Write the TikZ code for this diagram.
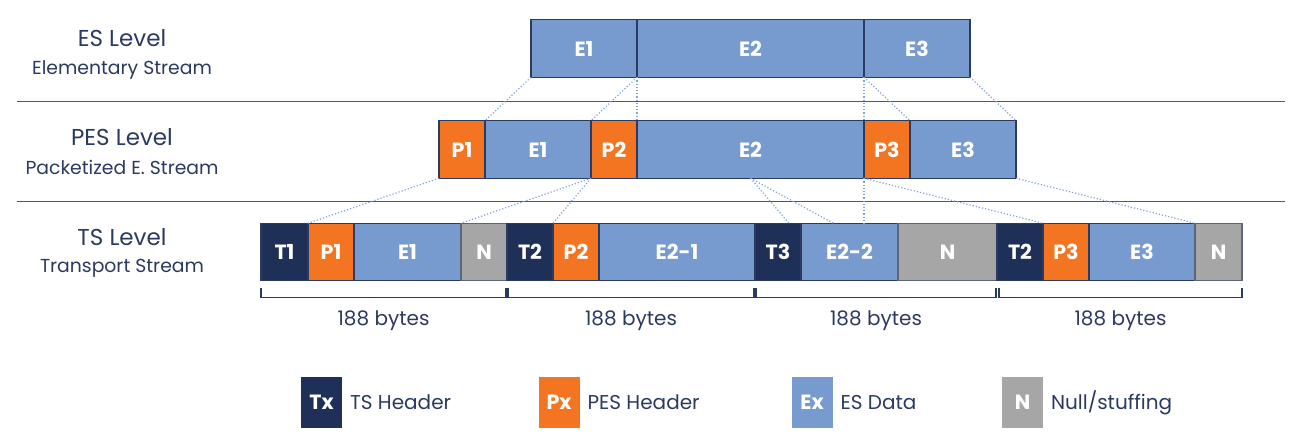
\documentclass[tikz,border=0pt]{standalone}
\usepackage{fontspec}
\setmainfont{Poppins}
\usetikzlibrary{positioning}
\definecolor{tsblue}{HTML}{1F3058}
\definecolor{pesorange}{HTML}{F47521}
\definecolor{esblue}{HTML}{779BCF}
\definecolor{nullgray}{HTML}{A6A6A6}
\definecolor{inkblue}{HTML}{2A3A60}
\definecolor{linkblue}{HTML}{7FA0DA}
\begin{document}
\begin{tikzpicture}[x=0.5pt,y=-0.5pt,
  cell/.style={shape=rectangle,inner sep=0pt,outer sep=0pt,minimum height=28.75pt,draw=inkblue,line width=0.6pt,text=white,font=\bfseries\fontsize{10.3}{12}\selectfont},
  wd/.style={minimum width=#1*0.5pt},
  tsh/.style={cell,fill=tsblue},
  pesh/.style={cell,fill=pesorange},
  esd/.style={cell,fill=esblue},
  nul/.style={cell,fill=nullgray,draw=gray!60!inkblue},
  legbox/.style={minimum height=25.5pt,wd=41,draw=none},
  link/.style={draw=linkblue,densely dotted,line width=0.6pt},
  sepline/.style={draw=inkblue!85,line width=0.8pt},
  brace/.style={draw=inkblue,line width=0.6pt},
  lvl/.style={text=inkblue,font=\fontsize{11.5}{14}\selectfont},
  sub/.style={text=inkblue,font=\fontsize{9.4}{12}\selectfont},
  keytext/.style={text=inkblue,font=\fontsize{10}{12}\selectfont}]
 \useasboundingbox (0,0) rectangle (1310,444);
 \node (lvl es) at (122,38) [lvl] {ES Level};
 \node (sub es) at (122,70) [sub] {Elementary Stream};
 \node (lvl pes) at (122,137) [lvl] {PES Level};
 \node (sub pes) at (122,167) [sub] {Packetized E. Stream};
 \node (lvl ts) at (122,237) [lvl] {TS Level};
 \node (sub ts) at (122,268) [sub] {Transport Stream};
 \draw[sepline] (17,101.5) -- (1285,101.5);
 \draw[sepline] (17,201.5) -- (1285,201.5);
 \node (es 1) at (531,48.5) [esd,wd=106,anchor=west] {E1};
 \node (es 2) [esd,wd=227,right=0pt of es 1] {E2};
 \node (es 3) [esd,wd=106,right=0pt of es 2] {E3};
 \node (pes p1) at (439,149.5) [pesh,wd=46,anchor=west] {P1};
 \node (pes e1) [esd,wd=106,right=0pt of pes p1] {E1};
 \node (pes p2) [pesh,wd=46,right=0pt of pes e1] {P2};
 \node (pes e2) [esd,wd=227,right=0pt of pes p2] {E2};
 \node (pes p3) [pesh,wd=46,right=0pt of pes e2] {P3};
 \node (pes e3) [esd,wd=106,right=0pt of pes p3] {E3};
 \node (ts t1) at (261,252) [tsh,wd=47,anchor=west] {T1};
 \node (ts p1) [pesh,wd=46,right=0pt of ts t1] {P1};
 \node (ts e1) [esd,wd=107,right=0pt of ts p1] {E1};
 \node (ts n1) [nul,wd=46,right=0pt of ts e1] {N};
 \node (ts t2) [tsh,wd=46,right=0pt of ts n1] {T2};
 \node (ts p2) [pesh,wd=46,right=0pt of ts t2] {P2};
 \node (ts e21) [esd,wd=156,right=0pt of ts p2] {E2-1};
 \node (ts t3) [tsh,wd=46,right=0pt of ts e21] {T3};
 \node (ts e22) [esd,wd=97,right=0pt of ts t3] {E2-2};
 \node (ts n2) [nul,wd=99,right=0pt of ts e22] {N};
 \node (ts t4) [tsh,wd=46,right=0pt of ts n2] {T2};
 \node (ts p3) [pesh,wd=46,right=0pt of ts t4] {P3};
 \node (ts e3) [esd,wd=106,right=0pt of ts p3] {E3};
 \node (ts n3) [nul,wd=47,right=0pt of ts e3] {N};
 \coordinate (cut a) at ([xshift=5.5pt]ts t3.north);
 \coordinate (cut b) at ([xshift=-8pt]ts e22.north);
 \coordinate (cut c) at (pes p3.south west |- ts e22.north);
 \draw[link] (es 1.south west) -- (pes e1.north west);
 \draw[link] (es 1.south east) -- (pes p2.north west);
 \draw[link] (es 1.south east) -- (pes e2.north west);
 \draw[link] (es 2.south east) -- (pes p3.north west);
 \draw[link] (es 2.south east) -- (pes e3.north west);
 \draw[link] (es 3.south east) -- (pes e3.north east);
 \draw[link] (pes p1.south west) -- (ts p1.north west);
 \draw[link] (pes p2.south west) -- (ts n1.north west);
 \draw[link] (pes p2.south west) -- (ts p2.north west);
 \draw[link] (pes e2.south) -- (cut a);
 \draw[link] (pes e2.south) -- (cut b);
 \draw[link] (pes p3.south west) -- (cut c);
 \draw[link] (pes p3.south west) -- (ts p3.north west);
 \draw[link] (pes e3.south east) -- (ts n3.north west);
 \draw[brace] ([yshift=-3.5pt]ts t1.south west) -- ++(0,-5pt) -| ([xshift=-0.5pt,yshift=-3.5pt]ts n1.south east);
 \draw[brace] ([xshift=0.5pt,yshift=-3.5pt]ts t2.south west) -- ++(0,-5pt) -| ([xshift=-0.5pt,yshift=-3.5pt]ts e21.south east);
 \draw[brace] ([xshift=0.5pt,yshift=-3.5pt]ts t3.south west) -- ++(0,-5pt) -| ([xshift=-0.5pt,yshift=-3.5pt]ts n2.south east);
 \draw[brace] ([xshift=1pt,yshift=-3.5pt]ts t4.south west) -- ++(0,-5pt) -| ([yshift=-3.5pt]ts n3.south east);
 \node (bytes 1) at (383.5,321) [keytext] {188 bytes};
 \node (bytes 2) at (631,321) [keytext] {188 bytes};
 \node (bytes 3) at (876,321) [keytext] {188 bytes};
 \node (bytes 4) at (1120.5,321) [keytext] {188 bytes};
 \node (key t) at (321.5,402.5) [tsh,legbox] {Tx};
 \node (key t txt) [keytext,right=0.5pt of key t] {TS Header};
 \node (key p) at (559,402.5) [pesh,legbox] {Px};
 \node (key p txt) [keytext,right=0.5pt of key p] {PES Header};
 \node (key e) at (812,402.5) [esd,legbox] {Ex};
 \node (key e txt) [keytext,right=0.5pt of key e] {ES Data};
 \node (key n) at (1022.5,402.5) [nul,legbox] {N};
 \node (key n txt) [keytext,right=0.5pt of key n] {Null/stuffing};
\end{tikzpicture}
\end{document}
